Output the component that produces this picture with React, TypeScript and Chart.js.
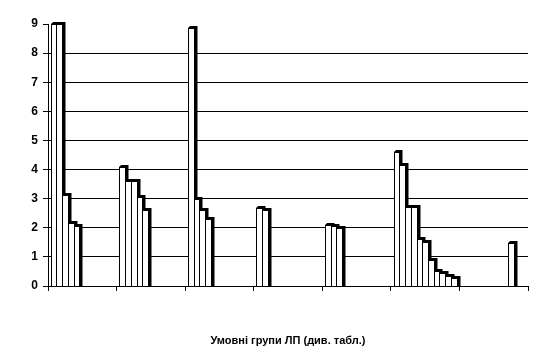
import React, { useEffect, useRef } from 'react';
import { Chart, registerables } from 'chart.js';

Chart.register(...registerables);

const categories = ['1', '2', '3', '4', '5', '6', '7'];
const yMin = 0;
const yMax = 9;
const yStep = 1;
const xTitle = 'Умовні групи ЛП (див. табл.)';

const series1 = [9, 4.1, 8.85, 2.68, 2.1, 4.62, null];
const series2 = [9, 3.6, 3.0, 2.6, 2.05, 4.15, null];
const series3 = [3.12, 3.6, 2.6, null, 1.98, 2.72, null];
const series4 = [2.17, 3.07, 2.3, null, null, 2.72, null];
const series5 = [2.05, 2.6, null, null, null, 1.62, null];
const series6 = [null, null, null, null, null, 1.5, null];
const series7 = [null, null, null, null, null, 0.9, null];
const series8 = [null, null, null, null, null, 0.52, null];
const series9 = [null, null, null, null, null, 0.45, 1.48];
const series10 = [null, null, null, null, null, 0.35, null];
const series11 = [null, null, null, null, null, 0.27, null];

const seriesList = [series1, series2, series3, series4, series5, series6, series7, series8, series9, series10, series11];

const bar3dPlugin = {
  id: 'bar3d',
  afterDatasetsDraw(chart: any) {
    const ctx = chart.ctx;
    ctx.save();
    chart.data.datasets.forEach((ds: any, i: number) => {
      const meta = chart.getDatasetMeta(i);
      meta.data.forEach((bar: any, j: number) => {
        const v = ds.data[j];
        if (v == null) return;
        const p = bar.getProps(['x', 'y', 'base', 'width'], true);
        const l = Math.round(p.x - p.width / 2);
        const r = Math.round(p.x + p.width / 2);
        const top = Math.round(p.y);
        const base = Math.round(p.base);
        const d = 3.5;
        const up = 2;
        ctx.fillStyle = '#000';
        ctx.beginPath();
        ctx.moveTo(l, top);
        ctx.lineTo(l + d * 0.6, top - up);
        ctx.lineTo(r + d, top - up);
        ctx.lineTo(r + d, base);
        ctx.lineTo(r, base);
        ctx.lineTo(r, top);
        ctx.closePath();
        ctx.fill();
        ctx.fillStyle = '#fff';
        ctx.fillRect(l, top, r - l, base - top);
        ctx.strokeStyle = '#000';
        ctx.lineWidth = 1;
        ctx.strokeRect(l + 0.5, top + 0.5, r - l, base - top);
      });
    });
    ctx.restore();
  },
};

export default function App() {
  const ref = useRef<HTMLCanvasElement>(null);
  useEffect(() => {
    if (!ref.current) return;
    const chart = new Chart(ref.current, {
      type: 'bar',
      data: {
        labels: categories,
        datasets: seriesList.map((s, i) => ({
          label: 'S' + (i + 1),
          data: s,
          backgroundColor: 'rgba(0,0,0,0)',
          borderWidth: 0,
          categoryPercentage: 0.92,
          barPercentage: 1,
        })),
      },
      options: {
        responsive: false,
        animation: false,
        layout: { padding: { left: 0, right: 29, top: 24, bottom: 10 } },
        plugins: { legend: { display: false }, tooltip: { enabled: false } },
        scales: {
          x: {
            offset: true,
            grid: { display: true, drawOnChartArea: false, drawTicks: true, tickLength: 5, color: '#000', offset: true },
            border: { display: true, color: '#000', width: 1 },
            ticks: { callback: () => '', padding: 0 },
            title: {
              display: true,
              text: xTitle,
              color: '#000',
              font: { family: '"Liberation Sans", Arial, sans-serif', size: 11, weight: 'bold' },
              padding: 0,
            },
            afterFit: (scale: any) => { scale.height = 62; },
          },
          y: {
            min: yMin,
            max: yMax,
            ticks: {
              stepSize: yStep,
              color: '#000',
              padding: 5,
              font: { family: '"Liberation Sans", Arial, sans-serif', size: 12, weight: 'bold' },
            },
            grid: {
              color: (c: any) => (c.tick && c.tick.value === yMax ? 'rgba(0,0,0,0)' : '#000'),
              tickColor: '#000',
              tickLength: 5,
              lineWidth: 1,
            },
            border: { display: true, color: '#000', width: 1 },
            afterFit: (scale: any) => { scale.width = 48; },
          },
        },
      },
      plugins: [bar3dPlugin],
    });
    return () => chart.destroy();
  }, []);
  return (
    <div style={{ position: 'absolute', left: 0, top: 0, width: 557, height: 358, background: '#fff' }}>
      <canvas ref={ref} width={557} height={358} />
    </div>
  );
}
